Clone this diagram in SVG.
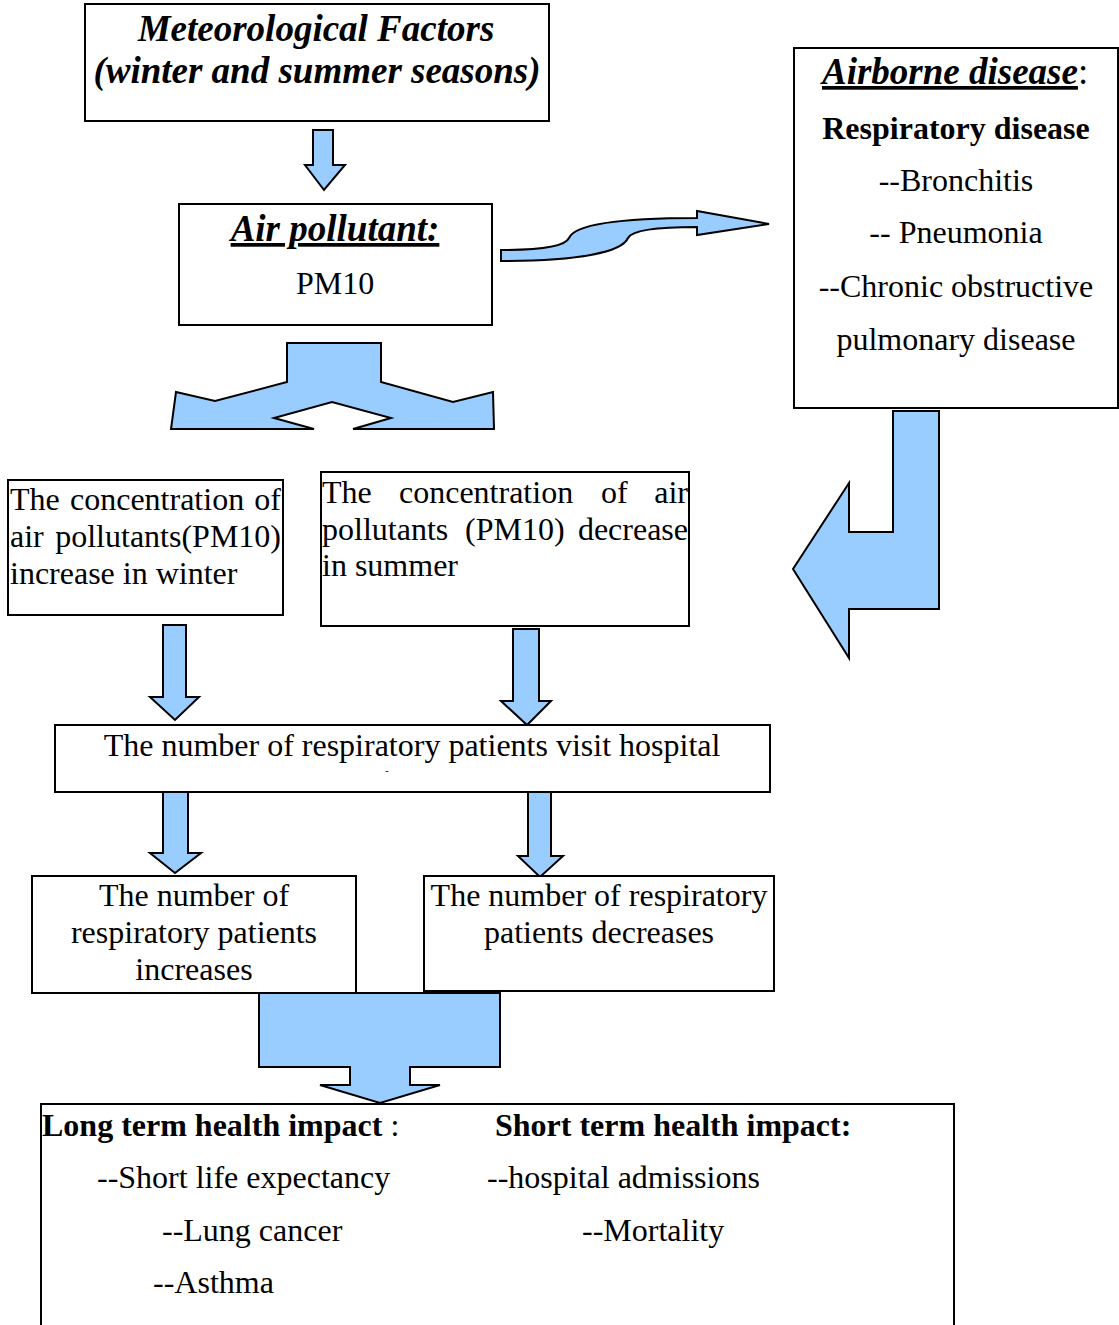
<svg xmlns="http://www.w3.org/2000/svg" width="1119" height="1325" viewBox="0 0 1119 1325">
<style>
.box{fill:#fff;stroke:#000;stroke-width:2}
.arr{fill:#99ccff;stroke:#000;stroke-width:2;stroke-linejoin:miter}
text{font-family:"Liberation Serif","Times New Roman",serif;fill:#000;font-size:32px}
.bi{font-weight:bold;font-style:italic}
.b{font-weight:bold}
.c{text-anchor:middle}
.e{text-anchor:end}
.h{font-size:37px}
</style>
<rect width="1119" height="1325" fill="#fff"/>
<g id="connectors">
<path class="arr" d="M313,130 L333,130 L333,165 L345,165 L324,190 L305,165 L313,165 Z"/>
<path class="arr" d="M287,343 L381,343 L381,382 L453,402 L493,392 L494,429 L353,429 L391,418 L332,402 L274,418 L314,429 L171,429 L176,392 L215,401 L287,382 Z"/>
<path class="arr" d="M501,250 C540,250 565,247 569,238 C575,224 620,218 697,218 L697,211 L769,224 L697,235 L697,227 C660,227 632,230 628,238 C622,252 580,261 501,261 Z"/>
<path class="arr" d="M893,411 L939,411 L939,609 L849,609 L849,658 L793,569 L849,483 L849,532 L893,532 Z"/>
<path class="arr" d="M163,625 L186,625 L186,697 L199,697 L175,720 L150,697 L163,697 Z"/>
<path class="arr" d="M513,629 L539,629 L539,701 L551,701 L527,725 L501,701 L513,701 Z"/>
<path class="arr" d="M163,792 L188,792 L188,853 L201,853 L175,873 L150,853 L163,853 Z"/>
<path class="arr" d="M528,792 L551,792 L551,856 L563,856 L540,877 L518,856 L528,856 Z"/>
<path class="arr" d="M259,993 L500,993 L500,1067 L410,1067 L410,1085 L440,1085 L380,1103 L320,1085 L350,1085 L350,1067 L259,1067 Z"/>
</g>
<g id="meteorological">
<rect class="box" x="85" y="4" width="464" height="117"/>
<text class="bi c h" x="316" y="41">Meteorological Factors</text>
<text class="bi c h" x="317" y="83">(winter and summer seasons)</text>
</g>
<g id="air-pollutant">
<rect class="box" x="179" y="204" width="313" height="121"/>
<text class="bi c h" x="335" y="241" style="text-decoration:underline">Air pollutant:</text>
<text class="c" x="335" y="294">PM10</text>
</g>
<g id="airborne">
<rect class="box" x="794" y="48" width="324" height="360"/>
<text class="h" x="822" y="84"><tspan class="bi" style="text-decoration:underline">Airborne disease</tspan>:</text>
<text class="b c" x="956" y="139">Respiratory disease</text>
<text class="c" x="956" y="191">--Bronchitis</text>
<text class="c" x="956" y="243">-- Pneumonia</text>
<text class="c" x="956" y="297">--Chronic obstructive</text>
<text class="c" x="956" y="350">pulmonary disease</text>
</g>
<g id="winter">
<rect class="box" x="8" y="480" width="275" height="135"/>
<text x="10" y="510">The</text>
<text x="70" y="510">concentration</text>
<text class="e" x="281" y="510">of</text>
<text x="10" y="547">air</text>
<text class="e" x="281" y="547">pollutants(PM10)</text>
<text x="10" y="584">increase in winter</text>
</g>
<g id="summer">
<rect class="box" x="321" y="472" width="368" height="154"/>
<text x="322" y="503">The</text>
<text x="399" y="503">concentration</text>
<text x="601" y="503">of</text>
<text class="e" x="688" y="503">air</text>
<text x="322" y="540">pollutants</text>
<text x="465" y="540">(PM10)</text>
<text class="e" x="688" y="540">decrease</text>
<text x="322" y="576">in summer</text>
</g>
<g id="hospital">
<rect class="box" x="55" y="725" width="715" height="67"/>
<text class="c" x="412" y="756">The number of respiratory patients visit hospital</text>
<text class="c" x="387" y="774" style="font-size:10px">-</text>
</g>
<g id="increase">
<rect class="box" x="32" y="876" width="324" height="117"/>
<text class="c" x="194" y="906">The number of</text>
<text class="c" x="194" y="943">respiratory patients</text>
<text class="c" x="194" y="980">increases</text>
</g>
<g id="decrease">
<rect class="box" x="424" y="876" width="350" height="115"/>
<text class="c" x="599" y="906">The number of respiratory</text>
<text class="c" x="599" y="943">patients decreases</text>
</g>
<g id="impact">
<rect class="box" x="41" y="1104" width="913" height="240"/>
<text x="42" y="1136"><tspan class="b">Long term health impact</tspan> :</text>
<text class="b" x="495" y="1136">Short term health impact:</text>
<text x="97" y="1188">--Short life expectancy</text>
<text x="487" y="1188">--hospital admissions</text>
<text x="162" y="1241">--Lung cancer</text>
<text x="582" y="1241">--Mortality</text>
<text x="153" y="1293">--Asthma</text>
</g>
</svg>
